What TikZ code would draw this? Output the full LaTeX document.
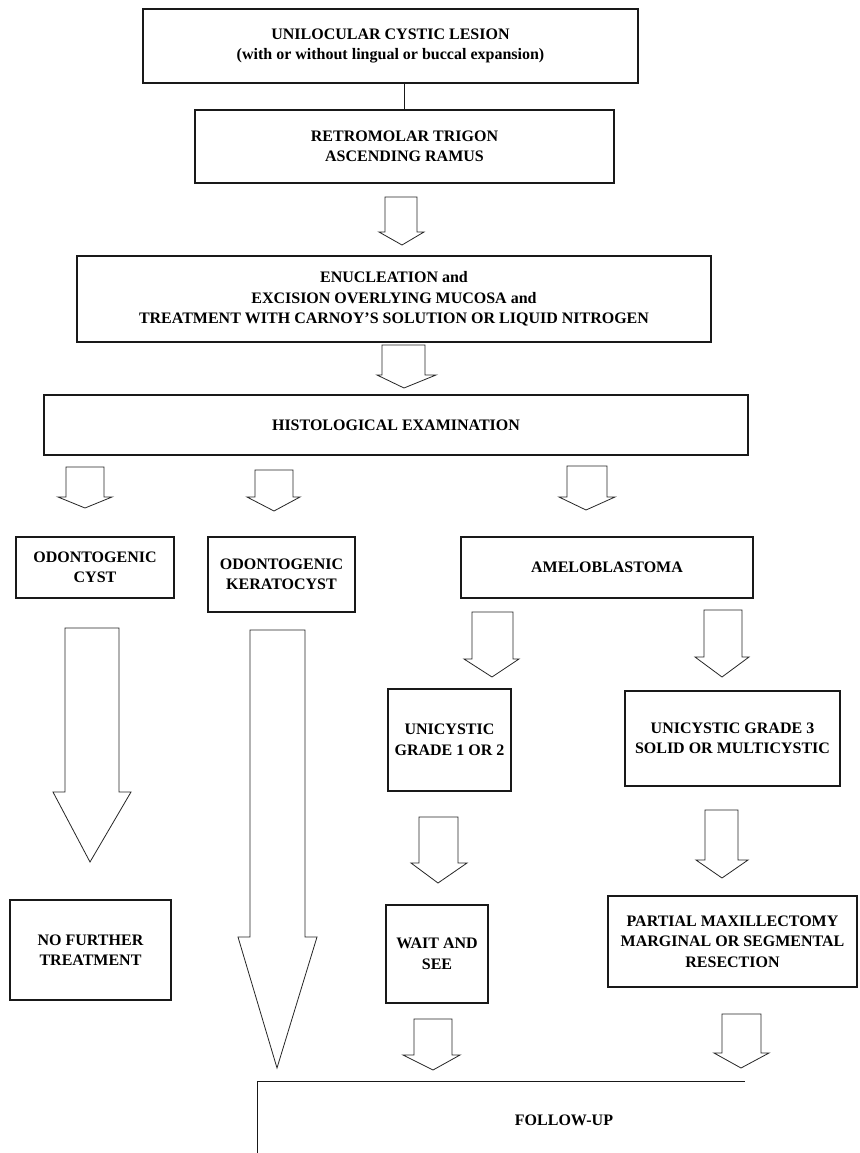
\documentclass[tikz,border=0pt]{standalone}
\usepackage{fontspec}
\setmainfont{Liberation Serif}
\tikzset{
  x=1pt, y=-1pt,
  box/.style={draw=black!90, line width=1.2pt, rectangle, inner sep=0pt, align=center,
    font=\fontsize{16}{20.5}\selectfont\bfseries},
  lbl/.style={inner sep=0pt, align=center, font=\fontsize{16}{20.5}\selectfont\bfseries},
  boxline/.style={draw=black!90, line width=1.2pt},
  conn/.style={draw=black!90, line width=1.2pt},
  arrowline/.style={draw=black!85, line width=0.8pt, line join=miter}
}
\newcommand{\hollowarrow}[8]{\draw[arrowline] (#1,#3) -- (#1,#4) -- (#5,#4) -- (#7,#8) -- (#6,#4) -- (#2,#4) -- (#2,#3) -- cycle;}
\begin{document}
\begin{tikzpicture}
\useasboundingbox[fill=white] (0,0) rectangle (859,1153);

% boxes
\node[box, minimum width=495pt, minimum height=74pt] (b1) at (390.5,46)
  {UNILOCULAR CYSTIC LESION\\(with or without lingual or buccal expansion)};
\node[box, minimum width=419pt, minimum height=73pt] (b2) at (404.5,146.5)
  {RETROMOLAR TRIGON\\ASCENDING RAMUS};
\node[box, minimum width=634pt, minimum height=86pt] (b3) at (394,299)
  {ENUCLEATION and\\EXCISION OVERLYING MUCOSA and\\TREATMENT WITH CARNOY'S SOLUTION OR LIQUID NITROGEN};
\node[box, minimum width=704pt, minimum height=60pt] (b4) at (396,425)
  {HISTOLOGICAL EXAMINATION};
\node[box, minimum width=158pt, minimum height=61pt] (oc) at (95,567.5)
  {ODONTOGENIC\\CYST};
\node[box, minimum width=147pt, minimum height=75pt] (ok) at (281.5,574.5)
  {ODONTOGENIC\\KERATOCYST};
\node[box, minimum width=292pt, minimum height=61pt] (am) at (607,567.5)
  {AMELOBLASTOMA};
\node[box, minimum width=123pt, minimum height=102pt] (u12) at (449.5,740)
  {UNICYSTIC\\GRADE 1 OR 2};
\node[box, minimum width=215pt, minimum height=95pt] (u3) at (732.5,738.5)
  {UNICYSTIC GRADE 3\\SOLID OR MULTICYSTIC};
\node[box, minimum width=161pt, minimum height=100pt] (nft) at (90.5,950)
  {NO FURTHER\\TREATMENT};
\node[box, minimum width=102pt, minimum height=98pt] (wait) at (437,954)
  {WAIT AND\\SEE};
\node[box, minimum width=249pt, minimum height=91pt] (part) at (732.5,941.5)
  {PARTIAL MAXILLECTOMY\\MARGINAL OR SEGMENTAL\\RESECTION};
\node[lbl, minimum width=612pt, minimum height=76pt] (fu) at (564,1120) {FOLLOW-UP};
\draw[boxline] (fu.south west) -- (fu.north west) -- ([xshift=-125pt]fu.north east);

% plain connector
\draw[conn] (b2.north) -- (b2.north |- b1.south);

% hollow block arrows
\hollowarrow{385}{417}{197}{232}{379}{424}{402}{245}
\hollowarrow{382}{425}{345}{375}{377}{436}{404}{388}
\hollowarrow{66}{104}{467}{497}{58}{112}{85}{508}
\hollowarrow{255}{293}{470}{497}{247}{300}{274}{511}
\hollowarrow{567}{607}{466}{497}{559}{615}{586}{510}
\hollowarrow{472}{513}{612}{659}{464}{519}{492}{677}
\hollowarrow{704}{742}{610}{657}{695}{749}{722}{677}
\hollowarrow{65}{119}{628}{792}{53}{131}{90}{862}
\hollowarrow{250}{305}{630}{937}{238}{317}{277}{1068}
\hollowarrow{419}{458}{817}{863}{411}{467}{438}{883}
\hollowarrow{705}{738}{810}{860}{696}{748}{722}{878}
\hollowarrow{414}{452}{1019}{1055}{403}{460}{433}{1070}
\hollowarrow{722}{761}{1014}{1053}{714}{769}{741}{1068}
\end{tikzpicture}
\end{document}
